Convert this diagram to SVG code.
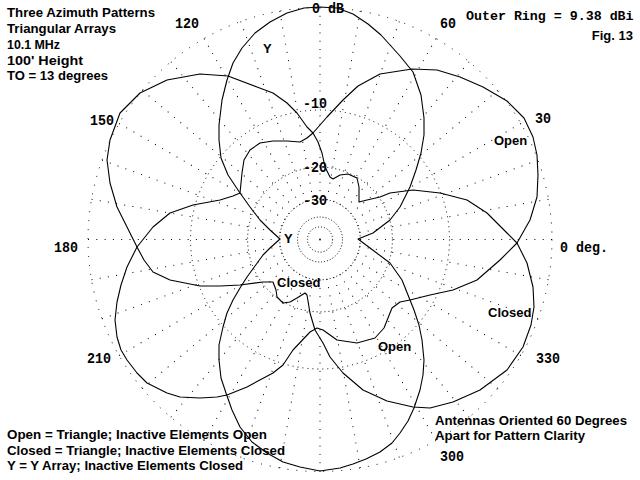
<svg xmlns="http://www.w3.org/2000/svg" xmlns:xlink="http://www.w3.org/1999/xlink" width="640" height="480" viewBox="0 0 640 480">
<style>
.ring{fill:none;stroke:#000;stroke-width:1}
.rad{stroke:#000;stroke-width:1;stroke-dasharray:1 7.3}
.pat{fill:none;stroke:#000;stroke-width:1.1;stroke-linejoin:round}
.m{font-family:"Liberation Mono","DejaVu Sans Mono",monospace;font-weight:bold;font-size:15px;fill:#000}
.s{font-family:"Liberation Sans",Arial,sans-serif;font-weight:bold;font-size:13px;fill:#000}
</style>
<defs>
<line id="rad" class="rad" x1="552" y1="239.5" x2="360" y2="239.5"/>
</defs>
<rect width="640" height="480" fill="#fff"/>
<g id="grid">
<circle class="ring" cx="320" cy="239.5" r="232" stroke-dasharray="1 8"/>
<circle class="ring" cx="320" cy="239.5" r="129.5" stroke-dasharray="1 4"/>
<circle class="ring" cx="320" cy="239.5" r="72.4" stroke-dasharray="1 3"/>
<circle class="ring" cx="320" cy="239.5" r="40.3" stroke-dasharray="1 2.5"/>
<circle class="ring" cx="320" cy="239.5" r="22.5" stroke-dasharray="1 2"/>
<circle class="ring" cx="320" cy="239.5" r="12.6" stroke-dasharray="1 2"/>
<circle cx="320" cy="239.5" r="0.9" fill="#000"/>
<use xlink:href="#rad"/>
<use xlink:href="#rad" transform="rotate(10 320 239.5)"/>
<use xlink:href="#rad" transform="rotate(20 320 239.5)"/>
<use xlink:href="#rad" transform="rotate(30 320 239.5)"/>
<use xlink:href="#rad" transform="rotate(40 320 239.5)"/>
<use xlink:href="#rad" transform="rotate(50 320 239.5)"/>
<use xlink:href="#rad" transform="rotate(60 320 239.5)"/>
<use xlink:href="#rad" transform="rotate(70 320 239.5)"/>
<use xlink:href="#rad" transform="rotate(80 320 239.5)"/>
<use xlink:href="#rad" transform="rotate(90 320 239.5)"/>
<use xlink:href="#rad" transform="rotate(100 320 239.5)"/>
<use xlink:href="#rad" transform="rotate(110 320 239.5)"/>
<use xlink:href="#rad" transform="rotate(120 320 239.5)"/>
<use xlink:href="#rad" transform="rotate(130 320 239.5)"/>
<use xlink:href="#rad" transform="rotate(140 320 239.5)"/>
<use xlink:href="#rad" transform="rotate(150 320 239.5)"/>
<use xlink:href="#rad" transform="rotate(160 320 239.5)"/>
<use xlink:href="#rad" transform="rotate(170 320 239.5)"/>
<use xlink:href="#rad" transform="rotate(180 320 239.5)"/>
<use xlink:href="#rad" transform="rotate(190 320 239.5)"/>
<use xlink:href="#rad" transform="rotate(200 320 239.5)"/>
<use xlink:href="#rad" transform="rotate(210 320 239.5)"/>
<use xlink:href="#rad" transform="rotate(220 320 239.5)"/>
<use xlink:href="#rad" transform="rotate(230 320 239.5)"/>
<use xlink:href="#rad" transform="rotate(240 320 239.5)"/>
<use xlink:href="#rad" transform="rotate(250 320 239.5)"/>
<use xlink:href="#rad" transform="rotate(260 320 239.5)"/>
<use xlink:href="#rad" transform="rotate(270 320 239.5)"/>
<use xlink:href="#rad" transform="rotate(280 320 239.5)"/>
<use xlink:href="#rad" transform="rotate(290 320 239.5)"/>
<use xlink:href="#rad" transform="rotate(300 320 239.5)"/>
<use xlink:href="#rad" transform="rotate(310 320 239.5)"/>
<use xlink:href="#rad" transform="rotate(320 320 239.5)"/>
<use xlink:href="#rad" transform="rotate(330 320 239.5)"/>
<use xlink:href="#rad" transform="rotate(340 320 239.5)"/>
<use xlink:href="#rad" transform="rotate(350 320 239.5)"/>
</g>
<g id="pattern-y">
<path class="pat" d="M358,239 L373,233 L390,220 L400,207 L410,187 L416,170 L421,153 L424,135 L424,118 L421,95 L413,72 L400,56 L381,35 L368,24 L353,14 L337,8 L320,7 L304,8 L287,13 L270,22 L255,33 L242,48 L233,63 L227,80 L222,100 L219,125 L219,140 L221,158 L228,175 L240,193 L250,207 L260,220 L270,230 L280,239 L270,248 L263,255 L255,266 L247,277 L240,288 L233,300 L227,313 L223,327 L219,345 L219,360 L221,378 L226,393 L232,410 L240,427 L252,442 L267,453 L283,462 L300,467 L320,471 L340,468 L353,464 L366,459 L380,452 L392,443 L400,433 L408,421 L414,408 L420,390 L423,375 L424,360 L422,340 L419,325 L414,310 L410,300 L402,280 L390,263 L370,248 Z"/>
</g>
<g id="pattern-open">
<path class="pat" d="M317,328 L323,330 L337,340 L357,343 L375,338 L384,328 L388,318 L392,308 L400,302 L410,300 L430,295 L453,290 L477,280 L500,260 L517,243 L530,220 L537,197 L538,175 L537,155 L533,137 L524,118 L507,101 L483,87 L460,77 L437,70 L412,69 L380,74 L358,86 L343,100 L327,117 L313,133 L307,138 L300,142 L287,141 L273,141 L260,143 L250,150 L244,160 L242,173 L240,193 L233,196 L220,200 L193,205 L170,213 L153,227 L137,247 L127,267 L121,285 L117,302 L115,320 L117,337 L121,350 L127,360 L137,373 L147,383 L167,393 L180,397 L200,398 L217,397 L227,395 L247,387 L273,373 L283,365 L293,350 L310,332 Z"/>
</g>
<g id="pattern-closed">
<path class="pat" d="M313,133 L318,142 L322,153 L325,167 L330,177 L333,179 L340,175 L348,174 L357,178 L359,187 L359,202 L367,200 L380,197 L390,193 L413,190 L440,193 L467,200 L487,213 L507,233 L517,243 L527,263 L533,287 L534,307 L531,325 L523,347 L507,370 L480,390 L453,402 L430,408 L413,407 L387,401 L363,390 L343,373 L330,357 L323,343 L315,330 L310,313 L307,295 L305,293 L297,298 L290,302 L283,303 L277,297 L276,290 L273,282 L263,282 L240,285 L220,286 L200,286 L170,280 L153,272 L144,260 L137,247 L127,227 L117,207 L110,183 L107,160 L110,140 L120,113 L140,93 L167,80 L200,74 L228,76 L257,87 L273,93 L287,103 L297,113 L307,127 Z"/>
</g>
<g id="scale-labels">
<text class="m" x="312" y="13" textLength="32" lengthAdjust="spacingAndGlyphs">0 dB</text>
<text class="m" x="303" y="108" textLength="24" lengthAdjust="spacingAndGlyphs">-10</text>
<text class="m" x="303" y="172" textLength="24" lengthAdjust="spacingAndGlyphs">-20</text>
<text class="m" x="303" y="205" textLength="24" lengthAdjust="spacingAndGlyphs">-30</text>
<text class="m" x="175" y="28" textLength="24" lengthAdjust="spacingAndGlyphs">120</text>
<text class="m" x="440" y="28" textLength="16" lengthAdjust="spacingAndGlyphs">60</text>
<text class="m" x="90" y="125" textLength="24" lengthAdjust="spacingAndGlyphs">150</text>
<text class="m" x="535" y="123" textLength="16" lengthAdjust="spacingAndGlyphs">30</text>
<text class="m" x="54" y="252" textLength="24" lengthAdjust="spacingAndGlyphs">180</text>
<text class="m" x="560" y="252" textLength="48" lengthAdjust="spacingAndGlyphs">0 deg.</text>
<text class="m" x="87" y="363" textLength="24" lengthAdjust="spacingAndGlyphs">210</text>
<text class="m" x="536" y="363" textLength="24" lengthAdjust="spacingAndGlyphs">330</text>
<text class="m" x="440" y="461" textLength="24" lengthAdjust="spacingAndGlyphs">300</text>
<text class="m" x="466" y="20" style="font-size:13.3px">Outer Ring = 9.38 dBi</text>
</g>
<g id="pattern-labels">
<text class="s" x="263" y="53">Y</text>
<text class="s" x="284" y="243">Y</text>
<text class="s" x="494" y="145">Open</text>
<text class="s" x="378" y="351">Open</text>
<text class="s" x="277" y="287">Closed</text>
<text class="s" x="488" y="317">Closed</text>
</g>
<g id="notes">
<text class="s" x="7" y="17" textLength="148" lengthAdjust="spacingAndGlyphs">Three Azimuth Patterns</text>
<text class="s" x="7" y="33" textLength="109" lengthAdjust="spacingAndGlyphs">Triangular Arrays</text>
<text class="s" x="7" y="49" textLength="53" lengthAdjust="spacingAndGlyphs">10.1 MHz</text>
<text class="s" x="7" y="64.5" textLength="76" lengthAdjust="spacingAndGlyphs">100' Height</text>
<text class="s" x="7" y="80" textLength="101" lengthAdjust="spacingAndGlyphs">TO = 13 degrees</text>
<text class="s" x="633" y="40" text-anchor="end">Fig. 13</text>
<text class="s" x="435" y="425" textLength="192" lengthAdjust="spacingAndGlyphs">Antennas Oriented 60 Degrees</text>
<text class="s" x="435" y="440" textLength="150" lengthAdjust="spacingAndGlyphs">Apart for Pattern Clarity</text>
<text class="s" x="7" y="439" textLength="260" lengthAdjust="spacingAndGlyphs">Open = Triangle; Inactive Elements Open</text>
<text class="s" x="7" y="455" textLength="278" lengthAdjust="spacingAndGlyphs">Closed = Triangle; Inactive Elements Closed</text>
<text class="s" x="7" y="470" textLength="236" lengthAdjust="spacingAndGlyphs">Y = Y Array; Inactive Elements Closed</text>
</g>
</svg>
